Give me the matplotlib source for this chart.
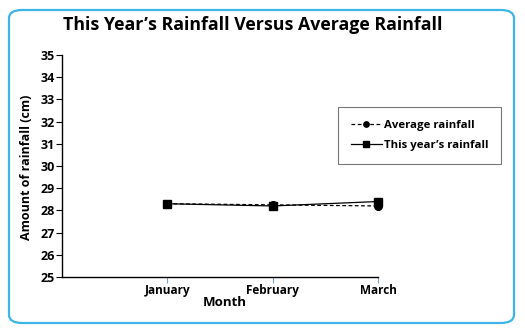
import matplotlib
matplotlib.use("Agg")
import matplotlib.pyplot as plt
from matplotlib.patches import FancyBboxPatch

months = ["January", "February", "March"]
average_rainfall = [28.3, 28.25, 28.2]
this_year_rainfall = [28.3, 28.2, 28.4]
y_ticks = list(range(25, 36))

plt.rcParams["font.family"] = ["Open Sans", "DejaVu Sans"]
plt.rcParams["font.weight"] = "bold"

W, H = 525, 331
fig = plt.figure(figsize=(W / 100, H / 100), dpi=100)

# rounded blue frame around the whole graphic
frame = FancyBboxPatch((9 / W, 8 / H), (514 - 9) / W, (321 - 8) / H,
                       boxstyle="round,pad=0,rounding_size=0.025",
                       transform=fig.transFigure, fill=False,
                       edgecolor="#3db5e8", linewidth=1.6)
fig.patches.append(frame)

ax = fig.add_axes([62 / W, 1 - 277 / H, (378 - 62) / W, (277 - 55) / H])
x = [1, 2, 3]

ax.plot(x, average_rainfall, linestyle=(0, (3, 2)), color="black",
        linewidth=0.9, marker="o", markersize=5.5, label="Average rainfall",
        clip_on=False)
ax.plot(x, this_year_rainfall, linestyle="-", color="black",
        linewidth=0.9, marker="s", markersize=6, label="This year\u2019s rainfall",
        clip_on=False)

ax.set_xlim(0, 3)
ax.set_ylim(25, 35)
ax.set_yticks(y_ticks)
ax.set_xticks(x)
ax.set_xticklabels(months)
ax.spines["top"].set_visible(False)
ax.spines["right"].set_visible(False)
for s in ("left", "bottom"):
    ax.spines[s].set_linewidth(1.0)
ax.tick_params(axis="y", length=4, width=0.8, labelsize=9, pad=1)
ax.tick_params(axis="x", length=4, width=0.8, labelsize=8.5, pad=1,
               color="#7f9fbf")
for lab in ax.get_xticklabels() + ax.get_yticklabels():
    lab.set_fontweight("bold")

fig.text(253 / W, 1 - 25 / H, "This Year\u2019s Rainfall Versus Average Rainfall",
         ha="center", va="center", fontsize=12.8, fontweight="bold")
fig.text(225 / W, 1 - 303 / H, "Month", ha="center", va="center",
         fontsize=9.5, fontweight="bold")
fig.text(27 / W, 1 - 167 / H, "Amount of rainfall (cm)", ha="center",
         va="center", rotation=90, fontsize=9, fontweight="bold")

leg = fig.legend(loc="upper left", bbox_to_anchor=(338 / W, 1 - 107 / H),
                 bbox_transform=fig.transFigure, frameon=True, fancybox=False,
                 fontsize=8.2, handlelength=2.7, handletextpad=0.15,
                 borderpad=1.15, labelspacing=0.75, markerscale=0.7,
                 borderaxespad=0)
leg.get_frame().set_edgecolor("#555555")
leg.get_frame().set_linewidth(0.8)
for t in leg.get_texts():
    t.set_fontweight("bold")

fig.savefig("out.png", dpi=100)
